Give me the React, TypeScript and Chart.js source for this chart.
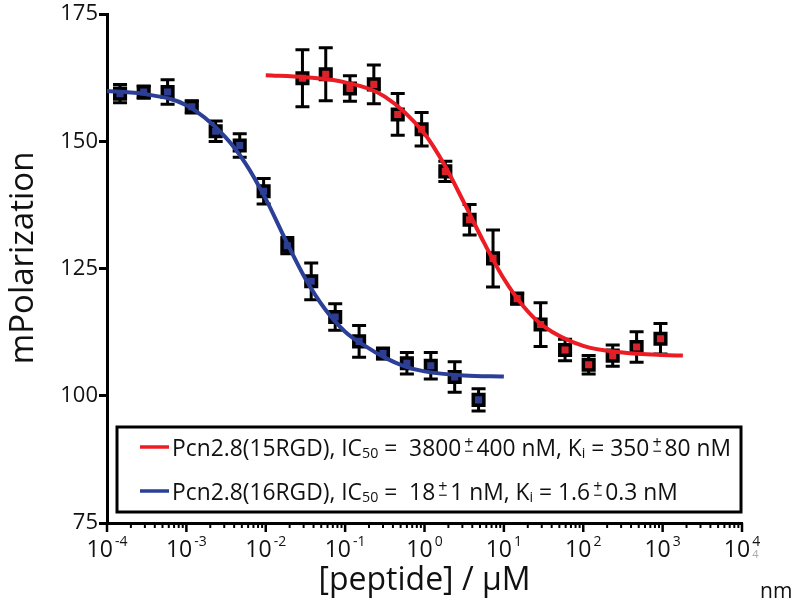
import React, { useEffect, useRef } from 'react';
import { Chart, registerables } from 'chart.js';
Chart.register(...registerables);

// ---- data (µM, mPolarization) ----
const blueX = [0.000146, 0.00029, 0.00058, 0.00117, 0.00234, 0.0047, 0.0094, 0.0187, 0.0374, 0.075, 0.15, 0.3, 0.6, 1.2, 2.4, 4.8];
const blueY = [159.4, 159.7, 159.7, 156.8, 152.0, 149.2, 140.2, 129.5, 122.5, 115.5, 110.7, 108.3, 106.4, 105.9, 103.7, 99.2];
const blueErr = [1.8, 1.2, 2.4, 1.2, 2.0, 2.3, 2.5, 1.6, 3.6, 2.6, 3.1, 1.0, 2.1, 2.6, 3.0, 2.2];

const redX = [0.029, 0.057, 0.115, 0.23, 0.46, 0.92, 1.83, 3.7, 7.3, 14.7, 29, 59, 117, 235, 470, 940];
const redY = [162.4, 163.2, 160.4, 161.2, 155.3, 152.4, 144.1, 134.6, 127.0, 119.1, 114.0, 109.0, 106.1, 107.9, 109.6, 111.2];
const redErr = [5.6, 5.2, 2.5, 3.8, 4.1, 3.3, 2.0, 3.0, 5.6, 1.0, 4.3, 2.1, 1.8, 2.1, 3.0, 3.0];

const blueFitX = [0.0001, 0.0003, 0.001, 0.003, 0.0056, 0.01, 0.0178, 0.0316, 0.056, 0.1, 0.178, 0.316, 0.562, 1, 3.16, 10];
const blueFitY = [159.9, 159.3, 157.1, 151.1, 145.6, 138.7, 130.6, 123.0, 117.0, 112.6, 109.8, 107.5, 105.8, 104.8, 104.0, 103.8];

const redFitX = [0.01, 0.0316, 0.1, 0.316, 1, 1.78, 3.16, 5.62, 10, 17.8, 31.6, 100, 316, 1000, 1800];
const redFitY = [163.0, 162.6, 161.6, 158.8, 151.5, 145.4, 137.9, 130.1, 123.0, 117.5, 113.7, 109.8, 108.5, 108.0, 107.9];

const xMajorExponents = [-4, -3, -2, -1, 0, 1, 2, 3, 4];
const xMinorMultipliers = [2, 3, 4, 5, 6, 7, 8, 9];

const yTitle = 'mPolarization';
const xTitle = '[peptide] / \u00b5M';

const legendNames = ['Pcn2.8(15RGD)', 'Pcn2.8(16RGD)'];
const legendIC50 = ['3800', '18'];
const legendIC50Err = ['400', '1'];
const legendKi = ['350', '1.6'];
const legendKiErr = ['80', '0.3'];

const RED = '#ec1c24';
const BLUE = '#2b3f97';
const RED_FILL = '#d8232a';
const BLUE_FILL = '#2e3d8f';
const FONT = '"Open Sans", "DejaVu Sans", sans-serif';

type Seg = { k: 'n' | 'sub' | 'pm'; t: string };

function legendSegs(i: number): Seg[] {
  return [
    { k: 'n', t: legendNames[i] + ', IC' },
    { k: 'sub', t: '50' },
    { k: 'n', t: ' =  ' + legendIC50[i] + ' ' },
    { k: 'pm', t: '' },
    { k: 'n', t: legendIC50Err[i] + ' nM, K' },
    { k: 'sub', t: 'i' },
    { k: 'n', t: ' = ' + legendKi[i] + ' ' },
    { k: 'pm', t: '' },
    { k: 'n', t: legendKiErr[i] + ' nM' },
  ];
}

function richWidth(ctx: CanvasRenderingContext2D, segs: Seg[]): number {
  let w = 0;
  for (const s of segs) {
    if (s.k === 'n') { ctx.font = `24px ${FONT}`; w += ctx.measureText(s.t).width; }
    else if (s.k === 'sub') { ctx.font = `15px ${FONT}`; w += ctx.measureText(s.t).width; }
    else { ctx.font = `17px ${FONT}`; w += ctx.measureText('+').width; }
  }
  return w;
}

function drawRich(ctx: CanvasRenderingContext2D, segs: Seg[], x: number, y: number, sx: number) {
  ctx.save();
  ctx.translate(x, y);
  ctx.scale(sx, 1);
  ctx.fillStyle = '#111';
  ctx.textBaseline = 'alphabetic';
  ctx.textAlign = 'left';
  let cx = 0;
  for (const s of segs) {
    if (s.k === 'n') {
      ctx.font = `24px ${FONT}`;
      ctx.fillText(s.t, cx, 0);
      cx += ctx.measureText(s.t).width;
    } else if (s.k === 'sub') {
      ctx.font = `15px ${FONT}`;
      ctx.fillText(s.t, cx, 2);
      cx += ctx.measureText(s.t).width;
    } else {
      ctx.font = `17px ${FONT}`;
      const w = ctx.measureText('+').width;
      ctx.fillText('+', cx - 3, -8);
      ctx.fillText('\u2212', cx - 3, 1);
      cx += w;
    }
  }
  ctx.restore();
}

const errorBarPlugin = {
  id: 'errorBars',
  beforeDatasetsDraw(chart: any) {
    const { ctx, scales } = chart;
    const xs = scales.x, ys = scales.y;
    const sets = [
      { x: blueX, y: blueY, e: blueErr },
      { x: redX, y: redY, e: redErr },
    ];
    ctx.save();
    ctx.strokeStyle = '#000';
    ctx.lineWidth = 3;
    ctx.lineCap = 'butt';
    for (const s of sets) {
      for (let i = 0; i < s.x.length; i++) {
        const px = xs.getPixelForValue(s.x[i]);
        const top = ys.getPixelForValue(s.y[i] + s.e[i]);
        const bot = ys.getPixelForValue(s.y[i] - s.e[i]);
        ctx.beginPath();
        ctx.moveTo(px, top); ctx.lineTo(px, bot);
        ctx.moveTo(px - 7, top); ctx.lineTo(px + 7, top);
        ctx.moveTo(px - 7, bot); ctx.lineTo(px + 7, bot);
        ctx.stroke();
      }
    }
    ctx.restore();
  },
};

const decorPlugin = {
  id: 'decor',
  afterDraw(chart: any) {
    const { ctx, scales, chartArea } = chart;
    const xs = scales.x;
    const yb = chartArea.bottom;
    ctx.save();
    // y title
    ctx.save();
    ctx.translate(24, 258);
    ctx.rotate(-Math.PI / 2);
    ctx.font = `33px ${FONT}`;
    ctx.fillStyle = '#111';
    ctx.textAlign = 'center';
    ctx.textBaseline = 'middle';
    ctx.fillText(yTitle, 0, 0);
    ctx.restore();

    // x ticks
    ctx.strokeStyle = '#000';
    for (let ei = 0; ei < xMajorExponents.length; ei++) {
      const e = xMajorExponents[ei];
      const px = xs.getPixelForValue(Math.pow(10, e));
      ctx.lineWidth = 2.5;
      ctx.beginPath(); ctx.moveTo(px, yb); ctx.lineTo(px, yb + 9); ctx.stroke();
      if (ei < xMajorExponents.length - 1) {
        for (const m of xMinorMultipliers) {
          const mx = xs.getPixelForValue(m * Math.pow(10, e));
          ctx.lineWidth = 2;
          ctx.beginPath(); ctx.moveTo(mx, yb); ctx.lineTo(mx, yb + 5); ctx.stroke();
        }
      }
      // label 10^e
      ctx.fillStyle = '#111';
      ctx.textBaseline = 'alphabetic';
      ctx.textAlign = 'left';
      ctx.font = `23px ${FONT}`;
      const w10 = ctx.measureText('10').width;
      ctx.font = `14px ${FONT}`;
      const sup = e < 0 ? '-' + Math.abs(e) : String(e);
      const ws = ctx.measureText(sup).width;
      const total = w10 + 2 + ws;
      const sx = px - total / 2;
      ctx.font = `23px ${FONT}`;
      ctx.fillText('10', sx, 557);
      ctx.font = `14px ${FONT}`;
      ctx.fillText(sup, sx + w10 + 2, 546);
      if (e === 4) {
        ctx.fillStyle = '#aaa';
        ctx.font = `11px ${FONT}`;
        ctx.fillText('4', sx + w10 + 2, 558);
        ctx.fillStyle = '#111';
      }
    }
    // nm
    ctx.font = `21px ${FONT}`;
    ctx.fillStyle = '#111';
    ctx.fillText('nm', 760, 598);

    // legend box
    const bx = 117, by = 427, bw = 741 - 117, bh = 512 - 427;
    ctx.fillStyle = '#fff';
    ctx.fillRect(bx, by, bw, bh);
    ctx.strokeStyle = '#000';
    ctx.lineWidth = 3;
    ctx.strokeRect(bx, by, bw, bh);

    const colors = [RED, BLUE];
    const lineY = [447, 491];
    const segs = [legendSegs(0), legendSegs(1)];
    const nat = richWidth(ctx, segs[0]);
    const sxScale = (731 - 172) / nat;
    for (let i = 0; i < 2; i++) {
      ctx.strokeStyle = colors[i];
      ctx.lineWidth = 3.5;
      ctx.beginPath(); ctx.moveTo(140, lineY[i]); ctx.lineTo(169, lineY[i]); ctx.stroke();
      drawRich(ctx, segs[i], 172, lineY[i] + 8.5, sxScale);
    }
    ctx.restore();
  },
};

export default function App() {
  const ref = useRef<HTMLCanvasElement | null>(null);
  useEffect(() => {
    if (!ref.current) return;
    const toPts = (xs: number[], ys: number[]) => xs.map((x, i) => ({ x, y: ys[i] }));
    const chart = new Chart(ref.current, {
      type: 'scatter',
      data: {
        datasets: [
          {
            label: legendNames[0] + ' fit',
            data: toPts(redFitX, redFitY),
            showLine: true,
            borderColor: RED,
            borderWidth: 4,
            pointRadius: 0,
            cubicInterpolationMode: 'monotone',
            order: 0,
          } as any,
          {
            label: legendNames[1] + ' fit',
            data: toPts(blueFitX, blueFitY),
            showLine: true,
            borderColor: BLUE,
            borderWidth: 4,
            pointRadius: 0,
            cubicInterpolationMode: 'monotone',
            order: 0,
          } as any,
          {
            label: legendNames[0],
            data: toPts(redX, redY),
            pointStyle: 'rect',
            pointRadius: 7.5,
            borderWidth: 3.5,
            borderColor: '#000',
            backgroundColor: RED_FILL,
            order: 1,
          },
          {
            label: legendNames[1],
            data: toPts(blueX, blueY),
            pointStyle: 'rect',
            pointRadius: 7.5,
            borderWidth: 3.5,
            borderColor: '#000',
            backgroundColor: BLUE_FILL,
            order: 1,
          },
        ],
      },
      options: {
        responsive: false,
        animation: false,
        devicePixelRatio: 1,
        layout: { padding: { top: 13, right: 58, left: 0, bottom: 0 } },
        plugins: { legend: { display: false }, tooltip: { enabled: false } },
        scales: {
          x: {
            type: 'logarithmic',
            min: 1e-4,
            max: 1e4,
            ticks: { display: false },
            grid: { display: false },
            border: { display: true, color: '#000', width: 3 },
            title: {
              display: true,
              text: xTitle,
              color: '#111',
              font: { family: FONT, size: 32 },
              padding: { top: 0, bottom: 2 },
            },
            afterFit: (s: any) => { s.height = 79; },
          },
          y: {
            min: 75,
            max: 175,
            ticks: {
              stepSize: 25,
              color: '#111',
              font: { family: FONT, size: 22 },
              padding: 1,
            },
            grid: {
              drawOnChartArea: false,
              drawTicks: true,
              tickLength: 8,
              tickWidth: 3,
              tickColor: '#000',
            },
            border: { display: true, color: '#000', width: 3 },
            afterFit: (s: any) => { s.width = 107; },
          },
        },
      },
      plugins: [errorBarPlugin, decorPlugin],
    });
    return () => chart.destroy();
  }, []);
  return (
    <div style={{ position: 'absolute', left: 0, top: 0, width: 800, height: 602, background: '#fff' }}>
      <canvas ref={ref} width={800} height={602} style={{ display: 'block' }} />
    </div>
  );
}
